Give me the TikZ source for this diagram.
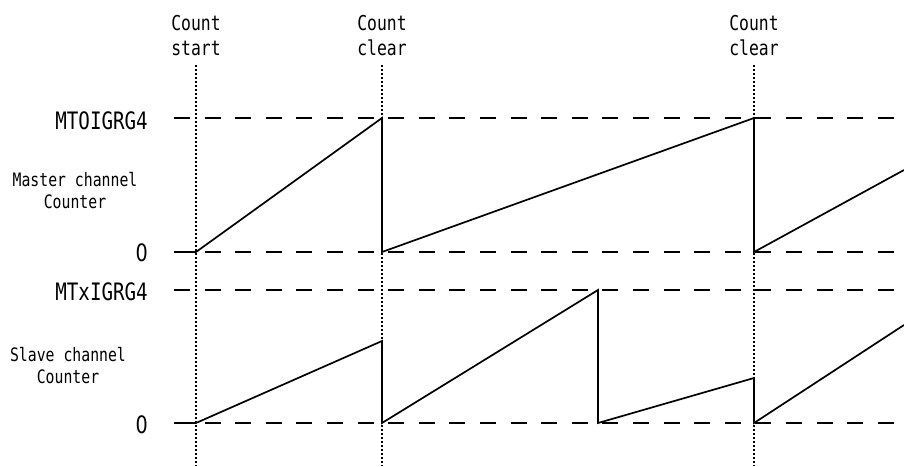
\documentclass[tikz,border=0pt]{standalone}
\usepackage{fontspec}
\newfontfamily\gothic[FakeStretch=0.8]{DejaVu Sans Mono}
\newfontfamily\gothicnum[FakeStretch=0.8]{DejaVu Sans}
\tikzset{
  tag/.style={font=\gothic\fontsize{20.5}{25}\selectfont,align=center,inner sep=0pt},
  axis/.style={font=\gothic\fontsize{24}{26}\selectfont,anchor=east,inner sep=0pt},
  zero/.style={axis,font=\gothicnum\fontsize{24}{26}\selectfont},
  chan/.style={font=\gothic\fontsize{18.5}{22}\selectfont,align=center,inner sep=0pt},
  guide/.style={line width=2.4pt,dash pattern=on 2.2pt off 1.8pt},
  level/.style={line width=2.8pt,dash pattern=on 16pt off 14.6pt},
  wave/.style={line width=1.7pt,line join=miter}
}
\begin{document}
\begin{tikzpicture}[x=1pt,y=-1pt]
\useasboundingbox (0,0) rectangle (904,466);

% count events
\node[tag] (start) at (196,36) {Count\\start};
\node[tag] (clearA) at (382,36) {Count\\clear};
\node[tag] (clearB) at (754,36) {Count\\clear};

% axis labels
\node[axis] (mmax) at (148,121) {MTOIGRG4};
\node[zero] (mzero) at (148,253) {0};
\node[axis] (smax) at (148,292) {MTxIGRG4};
\node[zero] (szero) at (148,425) {0};
\node[chan] (mname) at (75,191) {Master channel\\Counter};
\node[chan] (sname) at (68,366) {Slave channel\\Counter};

% reference levels
\draw[level] (174,118) -- (904,118);
\draw[level] (174,252) -- (904,252);
\draw[level] (174,290) -- (904,290);
\draw[level] (174,423) -- (904,423);

% event guides
\foreach \t in {196,382,754}
  \draw[guide] (\t,65) -- (\t,466);

% master channel counter
\draw[wave] (174,252) -- (196,252) -- (382,118) -- (382,252)
  -- (754,118) -- (754,252) -- (904,170);

% slave channel counter
\draw[wave] (174,423) -- (196,423) -- (382,341) -- (382,423)
  -- (598,290) -- (598,423) -- (754,378) -- (754,423) -- (904,325);
\end{tikzpicture}
\end{document}
